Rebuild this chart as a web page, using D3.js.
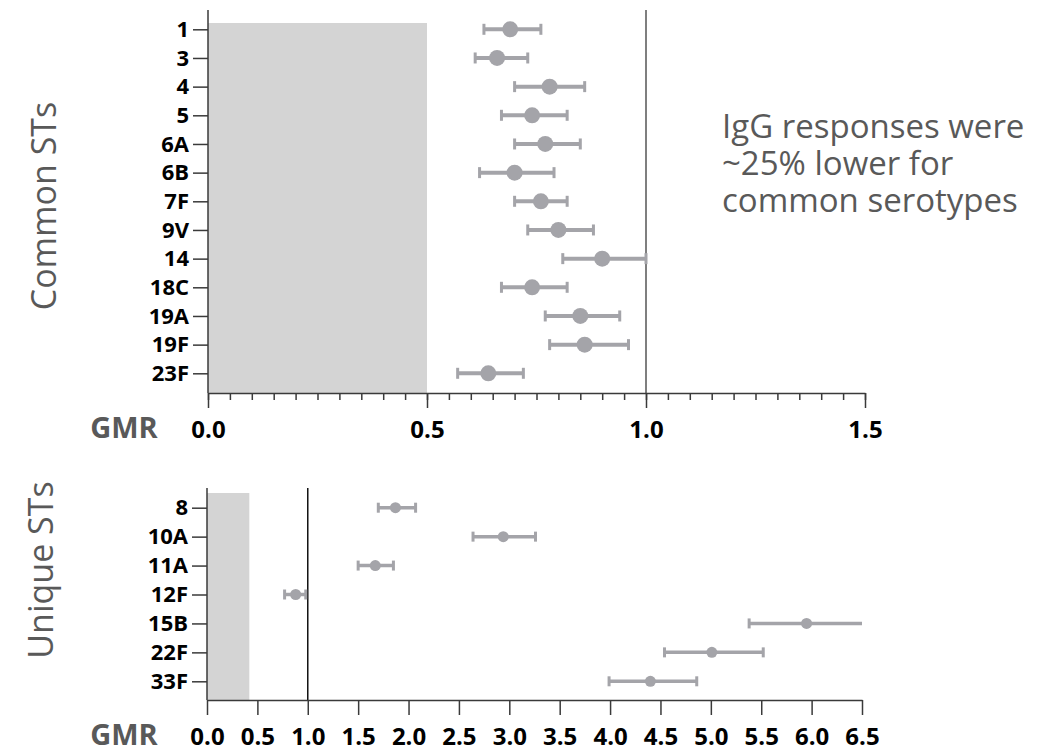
<!DOCTYPE html>
<html>
<head>
<meta charset="utf-8">
<script src="https://cdn.jsdelivr.net/npm/d3@7"></script>
<style>
body { margin: 0; background: #fff; }
svg { display: block; font-family: "Open Sans", sans-serif; }
</style>
</head>
<body>
<div id="chart"></div>
<script>
// common serotypes: GMR with 95% CI
var commonSTs  = ["1", "3", "4", "5", "6A", "6B", "7F", "9V", "14", "18C", "19A", "19F", "23F"];
var commonGMR  = [0.69, 0.66, 0.78, 0.74, 0.77, 0.70, 0.76, 0.80, 0.90, 0.74, 0.85, 0.86, 0.64];
var commonLow  = [0.63, 0.61, 0.70, 0.67, 0.70, 0.62, 0.70, 0.73, 0.81, 0.67, 0.77, 0.78, 0.57];
var commonHigh = [0.76, 0.73, 0.86, 0.82, 0.85, 0.79, 0.82, 0.88, 1.00, 0.82, 0.94, 0.96, 0.72];
var commonTicks = [0, 0.5, 1.0, 1.5];
var commonMinorTicks = d3.range(0, 1.5001, 0.05);

// unique serotypes
var uniqueSTs  = ["8", "10A", "11A", "12F", "15B", "22F", "33F"];
var uniqueGMR  = [1.87, 2.94, 1.67, 0.88, 5.95, 5.01, 4.40];
var uniqueLow  = [1.70, 2.64, 1.50, 0.77, 5.38, 4.54, 3.99];
var uniqueHigh = [2.07, 3.26, 1.85, 0.98, 6.50, 5.52, 4.86];
var uniqueTicks = [0, 0.5, 1.0, 1.5, 2.0, 2.5, 3.0, 3.5, 4.0, 4.5, 5.0, 5.5, 6.0, 6.5];

var annotationLines = ["IgG responses were", "~25% lower for", "common serotypes"];

var W = 1061, H = 754;
var markColor = "#a4a4a9",
		shadeColor = "#d4d4d4",
		axisColor = "#3a3a3a",
		labelGrey = "#595959";

var svg = d3.select("#chart").append("svg")
	.attr("width", W)
	.attr("height", H);

function drawPanel(p) {
	var x = d3.scaleLinear().domain([0, p.max]).range([p.left, p.right]),
			y = d3.scalePoint().domain(p.cats).range([p.firstRow, p.lastRow]),
			g = svg.append("g"),
			rows;

	// shaded region below threshold
	g.append("rect")
		.attr("x", x(0))
		.attr("y", p.shadeTop)
		.attr("width", x(p.shade) - x(0))
		.attr("height", p.axisY - p.shadeTop)
		.attr("fill", shadeColor);

	// reference line at GMR = 1
	g.append("line")
		.attr("x1", x(1)).attr("x2", x(1))
		.attr("y1", p.top).attr("y2", p.axisY)
		.attr("stroke", p.refColor)
		.attr("stroke-width", 1.5);

	// y axis line
	g.append("line")
		.attr("x1", x(0)).attr("x2", x(0))
		.attr("y1", p.top).attr("y2", p.axisY)
		.attr("stroke", axisColor)
		.attr("stroke-width", 1.5);

	var yAxis = g.append("g")
		.attr("transform", "translate(" + x(0) + ",0)")
		.call(d3.axisLeft(y).tickSize(15).tickPadding(4));
	yAxis.select(".domain").remove();
	yAxis.selectAll("line").attr("stroke", axisColor).attr("stroke-width", 1.5);
	yAxis.selectAll("text")
		.attr("fill", "#000")
		.style("font-family", "'Open Sans', sans-serif")
		.style("font-size", p.catFont + "px")
		.style("font-weight", "bold");

	// minor ticks (top panel only)
	if (p.minor) {
		var minorAxis = g.append("g")
			.attr("transform", "translate(0," + p.axisY + ")")
			.call(d3.axisBottom(x).tickValues(p.minor).tickSize(7).tickFormat(""));
		minorAxis.select(".domain").remove();
		minorAxis.selectAll("line").attr("stroke", axisColor).attr("stroke-width", 1.5);
	}

	var xAxis = g.append("g")
		.attr("transform", "translate(0," + p.axisY + ")")
		.call(d3.axisBottom(x).tickValues(p.ticks).tickSize(15).tickSizeOuter(0)
			.tickFormat(d3.format(".1f")));
	xAxis.select(".domain").attr("stroke", axisColor).attr("stroke-width", 1.5);
	xAxis.selectAll("line").attr("stroke", axisColor).attr("stroke-width", 1.5);
	xAxis.selectAll("text")
		.attr("y", 45)
		.attr("dy", null)
		.attr("fill", "#000")
		.style("font-family", "'Open Sans', sans-serif")
		.style("font-size", "24px")
		.style("font-weight", "bold");

	g.append("text")
		.attr("x", 124)
		.attr("y", p.axisY + 45)
		.attr("text-anchor", "middle")
		.attr("fill", labelGrey)
		.style("font-size", "29px")
		.style("font-weight", "bold")
		.text("GMR");

	// rotated panel title
	g.append("text")
		.attr("transform", "translate(" + p.titleX + "," + p.titleY + ") rotate(-90)")
		.attr("text-anchor", "middle")
		.attr("fill", labelGrey)
		.style("font-size", "34px")
		.text(p.title);

	// error bars + points
	rows = p.cats.map(function (c, i) {
		return { cat: c, v: p.gmr[i], lo: p.low[i], hi: p.high[i] };
	});

	var bars = g.selectAll(".bar").data(rows).enter().append("g").attr("class", "bar");
	bars.append("line")
		.attr("x1", function (d) { return x(d.lo); })
		.attr("x2", function (d) { return x(d.hi); })
		.attr("y1", function (d) { return y(d.cat); })
		.attr("y2", function (d) { return y(d.cat); })
		.attr("stroke", markColor)
		.attr("stroke-width", p.barWidth);
	bars.append("line")
		.attr("x1", function (d) { return x(d.lo); })
		.attr("x2", function (d) { return x(d.lo); })
		.attr("y1", function (d) { return y(d.cat) - p.capH / 2; })
		.attr("y2", function (d) { return y(d.cat) + p.capH / 2; })
		.attr("stroke", markColor)
		.attr("stroke-width", 3);
	bars.filter(function (d) { return d.hi < p.max; }).append("line")
		.attr("x1", function (d) { return x(d.hi); })
		.attr("x2", function (d) { return x(d.hi); })
		.attr("y1", function (d) { return y(d.cat) - p.capH / 2; })
		.attr("y2", function (d) { return y(d.cat) + p.capH / 2; })
		.attr("stroke", markColor)
		.attr("stroke-width", 3);
	bars.append("circle")
		.attr("cx", function (d) { return x(d.v); })
		.attr("cy", function (d) { return y(d.cat); })
		.attr("r", p.dotR)
		.attr("fill", markColor);
}

drawPanel({
	cats: commonSTs, gmr: commonGMR, low: commonLow, high: commonHigh,
	ticks: commonTicks, minor: commonMinorTicks, max: 1.5, shade: 0.5,
	left: 208, right: 865, top: 10, axisY: 393, shadeTop: 23,
	firstRow: 29.3, lastRow: 373.3,
	catFont: 22, dotR: 8, barWidth: 4, capH: 11, refColor: "#555",
	title: "Common STs", titleX: 56, titleY: 206
});

drawPanel({
	cats: uniqueSTs, gmr: uniqueGMR, low: uniqueLow, high: uniqueHigh,
	ticks: uniqueTicks, minor: null, max: 6.5, shade: 0.42,
	left: 207, right: 862, top: 488, axisY: 700, shadeTop: 493,
	firstRow: 507.7, lastRow: 681.3,
	catFont: 22, dotR: 5.5, barWidth: 3.5, capH: 10, refColor: "#111",
	title: "Unique STs", titleX: 53, titleY: 570
});

// annotation, one line of text each
svg.append("g").selectAll("text")
	.data(annotationLines)
	.enter().append("text")
	.attr("x", 722)
	.attr("y", function (d, i) { return 138 + i * 37; })
	.attr("fill", labelGrey)
	.style("font-size", "33px")
	.text(function (d) { return d; });
</script>
</body>
</html>
